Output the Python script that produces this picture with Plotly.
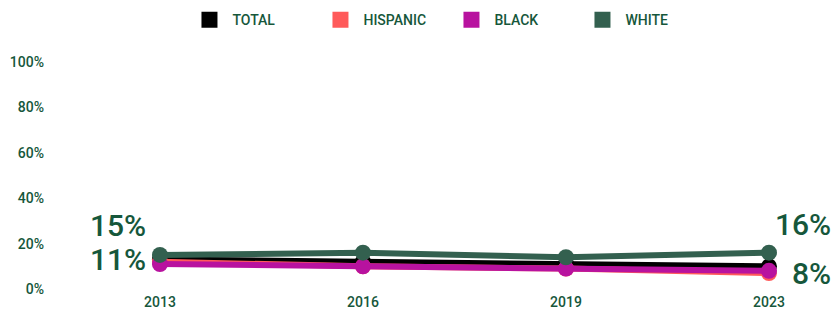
import plotly.graph_objects as go

years = ["2013", "2016", "2019", "2023"]
total = [13, 12, 11, 10]
hispanic = [12, 10, 9, 7]
black = [11, 10, 9, 8]
white = [15, 16, 14, 16]
y_ticks = [0, 20, 40, 60, 80, 100]
y_tick_labels = ["0%", "20%", "40%", "60%", "80%", "100%"]

series = [
    ("TOTAL", total, "#000000"),
    ("HISPANIC", hispanic, "#ff5a5a"),
    ("BLACK", black, "#b8129f"),
    ("WHITE", white, "#33604f"),
]
FONT = "Roboto, sans-serif"
TXT = "#16573b"

fig = go.Figure()
for name, vals, col in series:
    fig.add_trace(go.Scatter(
        x=years, y=vals, mode="lines+markers", name=name, showlegend=False,
        line=dict(color=col, width=6), marker=dict(color=col, size=16),
        hoverinfo="x+y",
    ))
for name, vals, col in series:
    fig.add_trace(go.Scatter(
        x=[None], y=[None], mode="markers", name=name,
        marker=dict(color=col, size=19, symbol="square"),
    ))

n = len(years) - 1
big = dict(size=30, color=TXT, family=FONT, weight=500)
fig.add_annotation(x=0, y=white[0], text=f"{white[0]}%", xref="x", yref="y",
                   xanchor="right", yanchor="middle", xshift=-12, yshift=29, showarrow=False, font=big)
fig.add_annotation(x=0, y=black[0], text=f"{black[0]}%", xref="x", yref="y",
                   xanchor="right", yanchor="middle", xshift=-12, yshift=5, showarrow=False, font=big)
fig.add_annotation(x=n, y=white[-1], text=f"{white[-1]}%", xref="x", yref="y",
                   xanchor="right", yanchor="middle", xshift=64, yshift=28, showarrow=False, font=big)
fig.add_annotation(x=n, y=black[-1], text=f"{black[-1]}%", xref="x", yref="y",
                   xanchor="right", yanchor="middle", xshift=64, yshift=-3, showarrow=False, font=big)

fig.update_layout(
    width=835, height=313,
    margin=dict(l=55, r=10, t=62, b=24),
    paper_bgcolor="white", plot_bgcolor="white",
    font=dict(family=FONT, color=TXT, size=14, weight=500),
    legend=dict(orientation="h", x=0.511, xanchor="center", y=0.936, yanchor="middle",
                yref="container", font=dict(size=14, color=TXT, family=FONT, weight=500),
                itemwidth=36, entrywidth=80, tracegroupgap=0),
    xaxis=dict(type="category", range=[-0.517, 3.276], showgrid=False, zeroline=False,
               showline=False, ticks="", automargin=False, ticklabelstandoff=3,
               tickfont=dict(size=14, color=TXT)),
    yaxis=dict(range=[0, 100], tickvals=y_ticks, ticktext=y_tick_labels, showgrid=False,
               zeroline=False, showline=False, ticks="", ticklabelstandoff=10, automargin=False,
               tickfont=dict(size=14, color=TXT)),
)
fig.write_html("out.html", config={"displayModeBar": False},
               post_script="document.body.style.margin='0';document.body.style.overflow='hidden';")
